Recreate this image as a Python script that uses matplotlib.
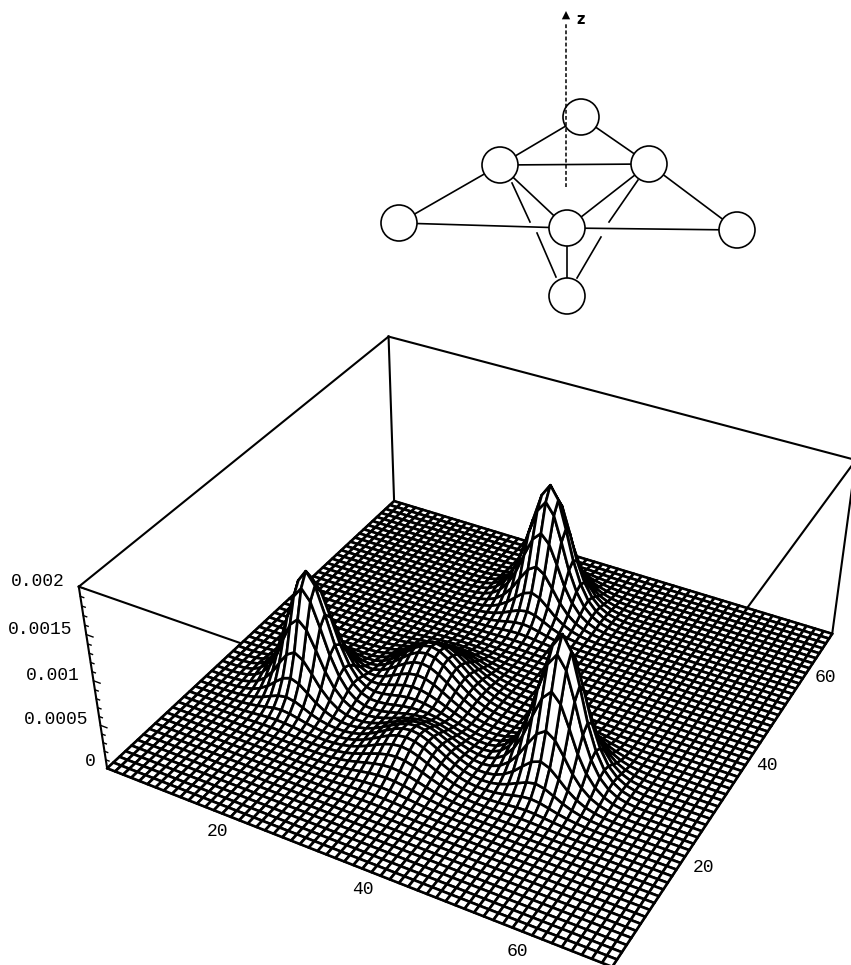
import numpy as np
import matplotlib
matplotlib.use("Agg")
import matplotlib.pyplot as plt
from matplotlib.patches import Circle

W, H = 851, 965
XMAX = 70
ZMAX = 0.002
N_CELLS = 56

# peaks: mesh index of the apex, height read against the z axis
peak_col = [11, 26, 40, 22, 26]
peak_row = [21, 46, 21, 27, 16]
peak_height = [0.00133, 0.00141, 0.00155, 0.00047, 0.00032]
narrow_section = [1.0, 0.90, 0.68, 0.44, 0.26, 0.14, 0.07, 0.03, 0.012, 0.003]
wide_section = [1.0, 0.955, 0.83, 0.66, 0.48, 0.32, 0.19, 0.105, 0.053, 0.024, 0.01, 0.003]
peak_section = [narrow_section, narrow_section, narrow_section, wide_section, wide_section]

z_ticks = [0, 0.0005, 0.001, 0.0015, 0.002]
z_minor = [0.0001, 0.0002, 0.0003, 0.0004, 0.0006, 0.0007, 0.0008, 0.0009, 0.0011,
           0.0012, 0.0013, 0.0014, 0.0016, 0.0017, 0.0018, 0.0019]

# tick labels: text, centre in pixels
z_labels = [("0.002", 38, 582), ("0.0015", 40, 630), ("0.001", 53, 675), ("0.0005", 56, 719), ("0", 90, 762)]
x_labels = [("20", 217, 832), ("40", 363, 890), ("60", 517, 951)]
y_labels = [("20", 703, 867), ("40", 767, 765), ("60", 825, 677)]

# molecule sketch above the plot
atoms = {"top": (581, 117), "lmid": (500, 165), "rmid": (649, 164), "left": (399, 223),
         "right": (737, 230), "centre": (567, 228), "bottom": (567, 296)}
bonds = [("top", "lmid"), ("top", "rmid"), ("lmid", "rmid"), ("lmid", "left"), ("rmid", "right"),
         ("lmid", "centre"), ("rmid", "centre"), ("left", "centre"), ("centre", "right"), ("centre", "bottom")]
broken_bonds = [((512, 183), (530, 222)), ((537, 233), (556, 277)),
                ((638, 180), (609, 222)), ((601, 237), (577, 278))]

def make_surface():
    z = np.zeros((N_CELLS + 1, N_CELLS + 1))
    for col, row, h, sec in zip(peak_col, peak_row, peak_height, peak_section):
        sec = np.array(sec)
        di = np.abs(np.arange(N_CELLS + 1) - col)
        dj = np.abs(np.arange(N_CELLS + 1) - row)
        si = np.where(di < len(sec), sec[np.minimum(di, len(sec) - 1)], 0)
        sj = np.where(dj < len(sec), sec[np.minimum(dj, len(sec) - 1)], 0)
        z[:, :] += h * np.outer(sj, si)
    return z

fig = plt.figure(figsize=(W / 100, H / 100), dpi=100)
ax = fig.add_axes([82.04 / W, -51.45 / H, 787.33 / W, 787.33 / H], projection='3d', computed_zorder=False)
ax.set_xlim(0, XMAX, view_margin=0)
ax.set_ylim(0, XMAX, view_margin=0)
ax.set_zlim(0, ZMAX, view_margin=0)
ax.view_init(elev=36.239, azim=-61.466, roll=-0.04)
ax.set_proj_type('persp', focal_length=0.4435)
ax.set_box_aspect((1, 1.0019, 0.3991))
ax.set_axis_off()
ax.patch.set_alpha(0)

# box
corners = np.array([[0, 0, 0], [XMAX, 0, 0], [XMAX, XMAX, 0], [0, XMAX, 0],
                    [0, 0, ZMAX], [XMAX, 0, ZMAX], [XMAX, XMAX, ZMAX], [0, XMAX, ZMAX]], float)
edges = [(0, 1), (1, 2), (2, 3), (3, 0), (4, 5), (5, 6), (6, 7), (7, 4), (0, 4), (1, 5), (2, 6), (3, 7)]
for i, j in edges:
    ln, = ax.plot(*zip(corners[i], corners[j]), color='k', lw=1.5, zorder=1)
    ln.set_clip_on(False)

# z ticks point into the box
for tk in z_ticks:
    ln, = ax.plot([0, 1.0], [0, 0], [tk, tk], color='k', lw=1.0, zorder=1)
    ln.set_clip_on(False)
for tk in z_minor:
    ln, = ax.plot([0, 0.5], [0, 0], [tk, tk], color='k', lw=1.0, zorder=1)
    ln.set_clip_on(False)

xs = np.linspace(0, XMAX, N_CELLS + 1)
X, Y = np.meshgrid(xs, xs)
surf = ax.plot_surface(X, Y, make_surface(), rstride=1, cstride=1, color='white', shade=False,
                       edgecolor='k', linewidth=1.9, antialiased=True, zorder=2)
surf.set_clip_on(False)

for lab in z_labels + x_labels + y_labels:
    fig.text(lab[1] / W, 1 - lab[2] / H, lab[0], family='Liberation Mono', fontsize=13,
             ha='center', va='center', color='k')

# molecule, in pixel coordinates
top = fig.add_axes([0, 0, 1, 1])
top.set_xlim(0, W)
top.set_ylim(H, 0)
top.axis('off')
top.patch.set_alpha(0)
for a, b in bonds:
    top.plot([atoms[a][0], atoms[b][0]], [atoms[a][1], atoms[b][1]], color='k', lw=1.2, zorder=1)
for p0, p1 in broken_bonds:
    top.plot([p0[0], p1[0]], [p0[1], p1[1]], color='k', lw=1.2, zorder=1)
for name in atoms:
    top.add_patch(Circle(atoms[name], 18, facecolor='white', edgecolor='k', lw=1.2, zorder=2))
top.plot([566, 566], [187, 22], color='k', lw=1.1, ls=(0, (2.5, 1.5)), zorder=3)
top.annotate("", xy=(566, 11), xytext=(566, 26),
             arrowprops=dict(arrowstyle='-|>', color='k', lw=0, mutation_scale=15, shrinkA=0, shrinkB=0), zorder=3)
top.text(576, 20, "z", family='DejaVu Sans', fontweight='bold', fontsize=10.5, ha='left', va='center', zorder=3)

fig.savefig("out.png", dpi=100)
